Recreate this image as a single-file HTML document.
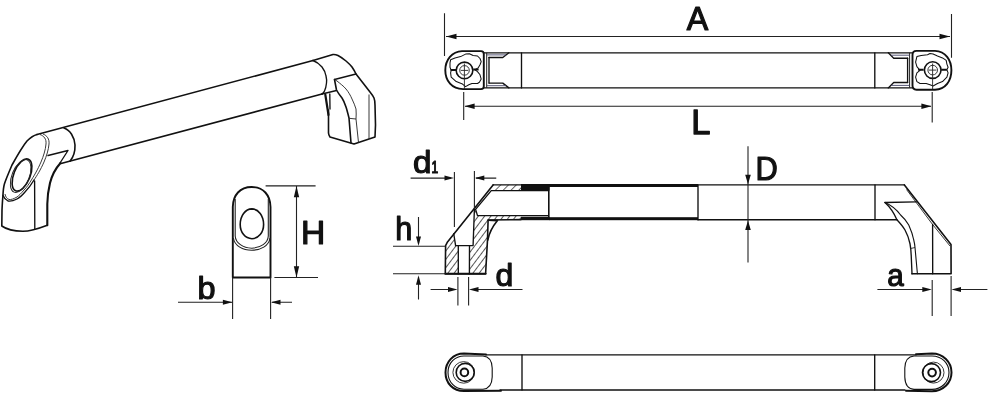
<!DOCTYPE html>
<html><head><meta charset="utf-8"><title>Handle drawing</title>
<style>
html,body{margin:0;padding:0;background:#fff;}
body{width:992px;height:400px;overflow:hidden;}
svg{display:block;opacity:0.999;will-change:transform;}
.k{stroke:#111;fill:none;stroke-width:1.6;stroke-linecap:round;stroke-linejoin:round;}
.m{stroke:#111;fill:none;stroke-width:1.35;stroke-linecap:round;stroke-linejoin:round;}
.t{stroke:#222;fill:none;stroke-width:0.9;stroke-linecap:butt;stroke-linejoin:round;}
.d{stroke:#222;fill:none;stroke-width:1.1;}
.h{stroke:#333;fill:none;stroke-width:0.7;}
.a{fill:#111;stroke:none;}
text{font-family:"Liberation Sans",Arial,sans-serif;font-weight:normal;fill:#111;stroke:#111;stroke-width:1.25px;stroke-linejoin:round;}
</style></head><body>
<svg width="992" height="400" viewBox="0 0 992 400">
<rect width="992" height="400" fill="#fff"/>

<!-- ============ ISOMETRIC VIEW ============ -->
<g id="iso">
 <!-- tube -->
 <path class="k" d="M37,134.5 L313,60.5"/>
 <path class="k" d="M61,163.5 L322,94"/>
 <path class="m" d="M313,60.5 C317,62 320,64.5 322,67 C324.3,70 325.5,73 326,76 C326.6,78.5 326.8,81 326.5,83 C326.2,86 325.5,89 324.5,91 C324,92.2 323,93.2 322,94"/>
 <path class="k" d="M64,128 C70,130 74.5,137 75,145 C75.2,151 73.5,157 70,161.2"/>
 <!-- left foot outer -->
 <path class="k" d="M37,134.5 C33,135.5 30,138 27,141 C22,147 17,156 12,165 C9,172 6,179 4.4,184 C3.5,187 3.1,192 2.9,196 C2.5,200 2.2,206 2,210 L1.8,226 C6,229 14,231.2 22.8,231.3 C30,231.2 40,228 47.3,225.2"/>
 <path class="k" style="stroke-width:2.1" d="M47.3,225.2 L47.3,204 C47.4,195 48.3,190 50,183 C52,175 56,168 60.5,163"/>
 <path class="m" d="M34.6,181 L34.8,228.7"/>
 <!-- face chamfer double lines -->
 <path class="t" d="M40,134.5 C44,136 46.5,139 46,144 C45.5,150 43.5,156 41,162 C37.5,170 34.5,175 32,179"/>
 <path class="t" d="M43,134 C47,135.5 49.5,139 49,144 C48.5,150 46.5,156 44,162 C40.5,170 37,175.5 34,180"/>
 <!-- face bottom -->
 <path class="m" d="M34,180 C31,185 28,189 25,192 C22,195.5 20,197.5 17,199 C13,201 10,201.5 8,201 C6,200 4,198 3,195.5"/>
 <path class="t" d="M32,179 C29,184 27,187 24,190 C21,193.5 19,195.5 17,197 C13.5,199 11,199.8 9,199.5 C7,198.5 5.5,197 5,194"/>
 <!-- hole ellipse -->
 <ellipse class="k" cx="22" cy="175" rx="8.2" ry="17" transform="rotate(22 22 175)"/>
 <ellipse class="t" cx="20.6" cy="176" rx="8.6" ry="17.4" transform="rotate(22 20.6 176)"/>
 <!-- notch -->
 <path class="m" d="M48,155.5 L68,150.5 L60,163"/>
 <!-- right foot -->
 <path class="k" d="M313,60.5 L333,54.5 C335,54.3 336.5,54.8 338,55.5 C341,57 343.5,59 346,61 C348.3,63 350.5,65 352,67 C353.5,69.2 355,71.8 356,74 L370,92 C372,94.5 373.3,96.5 374,98 C374.8,100 375,102.5 375,105 L375.5,125 L375,137 L354,144 L330,137 C329,135.5 328.6,134.5 328.5,133 L328.5,110"/>
 <path class="k" style="stroke-width:2.2" d="M325.3,94.5 L328.5,115"/>
 <path class="m" d="M329.8,94 L330,109"/>
 <path class="m" d="M334.5,79.5 L356,74"/>
 <path class="k" d="M334.5,79.5 L336.5,90 C338,93 340,95.5 342,98 C344,101 345,104 346,107 C347,110 348,114 349,118 L351,143"/>
 <path class="t" d="M334.5,79.5 C335.5,80 336,80.5 337,81 C340,83.5 343.5,86 346,89 C348.5,92 350.5,95.5 352,99 C353.8,102.5 355,106 356,109 C356.3,112 356.2,116 356,119 L358.5,142.5"/>
 <path class="t" d="M349,118.3 L356,119"/>
 <path class="t" d="M369,94.5 L369,139"/>
 <path class="m" d="M322,94 L336.5,90.5"/>
</g>

<!-- ============ TOP VIEW ============ -->
<g id="top">
 <path class="m" d="M484,52.8 L912,52.8 M484,87.9 L912,87.9"/>
 <path class="m" d="M521.5,52.8 L521.5,87.9 M874.8,52.8 L874.8,87.9"/>
 <!-- left cap -->
 <path class="k" style="stroke-width:1.9" d="M462,51.1 L481,51.1 Q483.8,51.1 483.8,54 L483.8,86.3 Q483.8,89.1 481,89.1 L463,89.1 C452,88.8 445.3,81 445.3,70.2 C445.3,60 452,51.4 462,51.1 Z"/>
 <path class="t" style="stroke-width:1" d="M486.7,52.8 L486.7,87.9"/><path class="m" d="M489,57.5 L489,83.1"/>
 <path class="m" d="M489,57.5 L502.8,57.5 L508.9,52.8 M489,83.1 L502.8,83.1 L508.9,87.9"/>
 <path class="t" style="stroke:#446" d="M487,54.9 L506,54.9 M487,85.7 L506,85.7"/>
 <path class="t" style="stroke-width:1.05;stroke:#111" d="M450.6,59.8 L455.0,57.9 L460.6,56.6 L465.6,54.1 L469.4,53.8 L473.1,55.4 L477.5,56.0 L480.0,58.5 L481.2,61.6 L480.0,64.8 L478.1,67.9 L475.0,69.8 L477.5,71.6 L480.0,74.8 L481.2,79.1 L479.4,82.2 L477.5,83.5 L471.9,83.5 L468.8,84.8 L465.6,86.6 L462.5,84.1 L456.2,81.6 L451.2,77.2 L450.6,72.9 L451.2,70.4 L450.0,67.2 L450.0,62.9 Z"/>
 <circle class="k" cx="464.5" cy="70.4" r="8.3"/>
 <circle class="t" cx="464.5" cy="70.4" r="4.8"/>
 <path class="t" d="M464.4,63.5 L464.4,89 M460.7,70.4 L468.3,70.4"/>
 <path class="k" style="stroke-width:2;stroke-linecap:butt" d="M450.6,69.9 L456,69.9 M473.2,69.6 L478.6,69.6"/>
 <!-- right cap -->
 <path class="k" style="stroke-width:1.9" d="M935,50.9 L916.5,50.9 Q912.5,50.9 912.5,55 L912.5,85.6 Q912.5,89.7 916.5,89.7 L935,89.7 C945.5,89.4 951.4,81 951.4,70.3 C951.4,60 945.5,51.2 935,50.9 Z"/>
 <path class="t" style="stroke-width:1" d="M909.6,52.8 L909.6,87.9"/><path class="m" d="M907.6,58.2 L907.6,82.5"/>
 <path class="m" d="M907.6,58.2 L893.7,58.2 L888.3,52.8 M907.6,82.5 L893.7,82.5 L888.3,87.9"/>
 <path class="t" style="stroke:#446" d="M909.4,55.2 L891,55.2 M909.4,85.4 L891,85.4"/>
 <path class="t" style="stroke-width:1.05;stroke:#111" d="M916.9,56.6 L921.2,55.4 L927.5,54.8 L930.0,53.5 L933.1,54.1 L937.5,56.0 L942.5,57.9 L946.2,60.4 L946.9,64.1 L948.1,67.2 L946.9,69.8 L948.1,72.9 L946.9,77.2 L942.5,81.6 L937.5,83.5 L933.1,86.0 L930.0,84.8 L926.2,83.5 L920.0,83.5 L916.9,81.6 L915.6,77.2 L916.9,72.9 L920.0,70.4 L916.9,66.6 L915.6,62.2 Z"/>
 <circle class="k" cx="932.7" cy="70.1" r="8.3"/>
 <circle class="t" cx="932.7" cy="70.1" r="4.8"/>
 <path class="t" d="M932.6,63.5 L932.6,89 M928.8,70.1 L936.4,70.1"/>
 <path class="k" style="stroke-width:2;stroke-linecap:butt" d="M941.2,69.8 L946.9,69.8 M918.1,69.7 L923.6,69.7"/>
 <!-- dims -->
 <path class="d" d="M444.5,13.3 L444.5,56 M951.5,14 L951.5,57.8 M446,36.5 L950,36.5"/>
 <polygon class="a" points="446.00,36.50 456.50,33.70 456.50,39.30"/><polygon class="a" points="950.00,36.50 939.50,33.70 939.50,39.30"/>
 <path class="d" d="M463.7,92 L463.7,120 M932.2,92 L932.2,122.5 M465,106.3 L931,106.3"/>
 <polygon class="a" points="464.60,106.30 474.60,103.50 474.60,109.10"/><polygon class="a" points="931.40,106.30 921.40,103.50 921.40,109.10"/>
 <text class="lb" transform="matrix(0.9474 0 0 0.9888 639.355 -68.901)" x="50" y="100" font-size="34">A</text>
 <text class="lb" transform="matrix(1.0154 0 0 1.0051 640.573 33.614)" x="50" y="100" font-size="34">L</text>
</g>

<!-- ============ END VIEW ============ -->
<g id="endv">
 <path class="k" style="stroke-width:1.9" d="M232.8,277.5 L232.8,207 C233,195 240,187 251.7,187 C263.3,187 270.3,195 270.5,207 L270.5,277.5 Z"/>
 <path class="t" style="stroke-width:1.1" d="M235.2,199 L235.2,236 C235.6,243 243,248 251.8,248.2 C260.5,248 268,243 268.3,236 L268.3,199"/>
 <path class="t" style="stroke-width:1.1" d="M233.4,238 C234.5,246 243,250.2 251.8,250.2 C260.5,250.2 269,246 270,238"/>
 <path class="k" d="M251.9,208.9 C258.5,209 263.6,216 263.6,224.5 C263.6,232.5 258.5,238.7 251.9,238.7 C245.3,238.7 240.2,232.5 240.2,224.5 C240.2,216 245.3,209 251.9,208.9 Z"/>
 <path class="d" d="M265.6,185.9 L315.6,185.9 M274.4,277.5 L318,277.5 M296.5,186 L296.5,277.4"/>
 <polygon class="a" points="296.50,186.20 293.80,197.20 299.20,197.20"/><polygon class="a" points="296.50,277.20 293.80,266.20 299.20,266.20"/>
 <path class="d" d="M232.6,277.5 L232.6,319 M270.6,277.5 L270.6,319 M178,302.3 L232,302.3 M272,302.3 L292,302.3"/>
 <polygon class="a" points="232.40,302.30 222.90,299.80 222.90,304.80"/><polygon class="a" points="271.00,302.30 280.50,299.80 280.50,304.80"/>
 <text class="lb" transform="matrix(0.9877 0 0 0.9909 251.519 145.294)" x="50" y="100" font-size="34">H</text>
 <text class="lb" transform="matrix(0.9545 0 0 0.9371 149.722 205.549)" x="50" y="100" font-size="34">b</text>
</g>

<!-- ============ SIDE VIEW ============ -->
<defs>
 <pattern id="hat" width="5" height="5" patternUnits="userSpaceOnUse" patternTransform="translate(2 0) rotate(-53)">
  <rect width="5" height="5" fill="#fff"/>
  <line x1="0" y1="0.5" x2="5" y2="0.5" stroke="#444" stroke-width="0.9"/>
 </pattern>
 <pattern id="hat2" width="5.5" height="5.5" patternUnits="userSpaceOnUse" patternTransform="translate(0.5 0) rotate(-45)">
  <rect width="5.5" height="5.5" fill="#fff"/>
  <line x1="0" y1="0.5" x2="5.5" y2="0.5" stroke="#555" stroke-width="0.9"/>
 </pattern>
</defs>
<g id="side">
 <!-- hatched section areas -->
 <path fill="url(#hat)" stroke="none" d="M445.6,245.6 L447.5,241.9 L453.75,233.75 L455.6,245.6 L458.3,245.6 L458.3,273.75 L445.3,273.75 Z"/>
 <path fill="url(#hat)" stroke="none" d="M469.4,245.6 L473.1,245.6 L474.4,209 L475.6,209.4 L477.5,215.6 L521,215.6 L521,219.4 L488.1,220 L487.5,240 L485.6,273.75 L469.4,273.75 Z"/>
 <path fill="url(#hat2)" stroke="none" d="M493.1,184.75 L521,184.75 L521,190.6 L491.25,190.6 L475.6,209.4 L473.5,208.8 Z"/>
 <!-- black tube section -->
 <rect x="521" y="184" width="28.5" height="6.6" fill="#111"/>
 <rect x="521" y="216.8" width="28.5" height="3.4" fill="#111"/>
 <rect x="549" y="184" width="149" height="3" fill="#111"/>
 <rect x="549" y="217.2" width="149" height="3" fill="#111"/>
 <!-- bar lines -->
 <path class="m" d="M493,184.9 L904.4,184.9 M698,219.7 L897,219.7"/>
 <path class="m" d="M698,185 L698,219.7 M875,185 L875,219.7"/>
 <path class="k" d="M548.8,187 L548.8,217.5"/>
 <!-- left foot outline -->
 <path class="k" d="M493.1,184.9 L447.5,241.9 L445.6,245.6 L445.3,273.75 L485.6,273.75 L487.5,240 L488.1,220 L521,219.6"/>
 <path class="k" style="stroke-width:2" d="M445.3,273.75 L485.6,273.75"/>
 <!-- cavity -->
 <path class="m" d="M548.1,190.6 L491.25,190.6 L475.6,209.4 L477.5,215.6 L548.1,215.6"/>
 <!-- counterbore & hole -->
 <path class="m" d="M453.75,233.75 L455.6,245.6 L473.1,245.6 L474.4,209"/>
 <path class="m" d="M458.3,245.6 L458.3,273.75 M469.5,245.6 L469.4,273.75"/>
 <!-- rib -->
 <path class="k" d="M488.1,220.3 L497.5,220.6 C493,226 489.5,232 487.8,240"/>
 <!-- right foot -->
 <path class="k" d="M904.4,184.9 L951,244.5 L951.1,273.75 L911.9,273.75"/>
 <path class="t" d="M906.5,189.5 L932.5,224.4 L950,246"/>
 <path class="m" d="M932.6,224.4 L932.7,273.75"/>
 <path class="m" d="M885,202.5 L916.25,201.9"/>
 <path class="m" d="M885,202.5 C891,208 894,213 896.9,219.7 C900,223 903,226.5 905,230 C907.5,234.5 909,239 910,243.75 C910.8,248 911.1,252 911.25,256.25 L912,273.75"/>
 <path class="m" style="stroke-width:1.1" d="M885,202.5 C892,205.5 897,210 900.6,215 C904,218 906.5,221 908.75,225 C911,230 912.8,235 913.75,240 C914.5,243 914.8,245 915,247.5 L917.4,273.75"/>
 <path class="t" d="M910.6,248.5 L915,247.5"/>
 <!-- dims: d1 -->
 <path class="d" d="M454.4,171.9 L454.4,227 M474.4,171 L474.4,209 M410.6,178.1 L451,178.1 M476,178.1 L496.25,178.1"/>
 <polygon class="a" points="454.00,178.10 444.50,175.60 444.50,180.60"/><polygon class="a" points="474.80,178.10 484.30,175.60 484.30,180.60"/>
 <!-- h -->
 <path class="d" d="M393,246.3 L445.6,246.3 M393,273.75 L445.6,273.75 M418.5,217 L418.5,240 M418.5,283 L418.5,299.4"/>
 <polygon class="a" points="418.50,246.00 416.00,236.50 421.00,236.50"/><polygon class="a" points="418.50,275.30 416.00,284.80 421.00,284.80"/>
 <!-- d -->
 <path class="d" d="M457.9,276.9 L457.9,305.6 M468.6,276.9 L468.6,305.6 M430.6,289.5 L452,289.5 M474,289.5 L522.5,289.5"/>
 <polygon class="a" points="457.50,289.50 448.00,287.00 448.00,292.00"/><polygon class="a" points="469.00,289.50 478.50,287.00 478.50,292.00"/>
 <!-- D -->
 <path class="d" d="M748,146.25 L748,262.5"/>
 <polygon class="a" points="748.00,184.30 745.20,174.80 750.80,174.80"/><polygon class="a" points="748.00,220.50 745.20,230.00 750.80,230.00"/>
 <!-- a -->
 <path class="d" d="M932.2,280 L932.2,316 M951.1,276 L951.1,316 M877.4,289.5 L925,289.5 M958,289.5 L987.4,289.5"/>
 <polygon class="a" points="931.80,289.50 922.30,287.00 922.30,292.00"/><polygon class="a" points="951.50,289.50 961.00,287.00 961.00,292.00"/>
 <text class="lb" transform="matrix(0.9774 0 0 0.9448 364.145 78.779)" x="50" y="100" font-size="34">d</text>
 <text class="lb" transform="matrix(0.7072 0 0 0.9398 396.096 79.432)" x="50" y="100" font-size="17">1</text>
 <text class="lb" transform="matrix(0.9024 0 0 0.9662 350.201 143.378)" x="50" y="100" font-size="34">h</text>
 <text class="lb" transform="matrix(0.9414 0 0 0.9371 448.476 192.449)" x="50" y="100" font-size="34">d</text>
 <text class="lb" transform="matrix(0.9076 0 0 0.9888 710.191 81.099)" x="50" y="100" font-size="34">D</text>
 <text class="lb" transform="matrix(0.8725 0 0 0.9258 843.612 192.996)" x="50" y="100" font-size="34">a</text>
</g>

<!-- ============ BOTTOM VIEW ============ -->
<g id="bot">
 <path class="m" d="M486,354.9 L916,354.9 M500,390 L905,390"/>
 <path class="m" d="M522,354.9 L522,390 M874.7,354.9 L874.7,390"/>
 <!-- left cap -->
 <path class="k" style="stroke-width:2" d="M486,354.4 L464,353.6 C453,353.6 445.5,362 445.5,372.4 C445.5,383 453,391.1 464,391.1 L501,390.8"/>
 <path class="m" style="stroke-width:1.1" d="M464,356 L483,356 C489,356.5 492,361 492.2,368 L492.2,377 C492,384 489,388.7 483,389.2 L464,389.2 C455,389.2 448,382 448,372.4 C448,363 455,356 464,356 Z"/>
 <circle class="t" cx="463.7" cy="372.4" r="10.8"/>
 <circle class="k" cx="465.2" cy="372.4" r="9"/>
 <circle class="k" style="stroke-width:2" cx="464.4" cy="372.4" r="3.8"/>
 <!-- right cap -->
 <path class="k" style="stroke-width:2" d="M916,354.2 L932,353.5 C943,353.5 951.5,362 951.5,372.5 C951.5,383 943,391.3 932,391.3 L906,390.8"/>
 <path class="m" style="stroke-width:1.1" d="M932,356 L914,356 C908,356.5 905,361 904.8,368 L904.8,377 C905,384 908,388.9 914,389.4 L932,389.4 C941.5,389.4 949,382 949,372.5 C949,363 941.5,356 932,356 Z"/>
 <circle class="t" cx="933.5" cy="372.6" r="10.5"/>
 <circle class="k" cx="931.5" cy="372.6" r="9"/>
 <circle class="k" style="stroke-width:2" cx="932.1" cy="372.6" r="3.8"/>
</g>

</svg>
</body></html>
